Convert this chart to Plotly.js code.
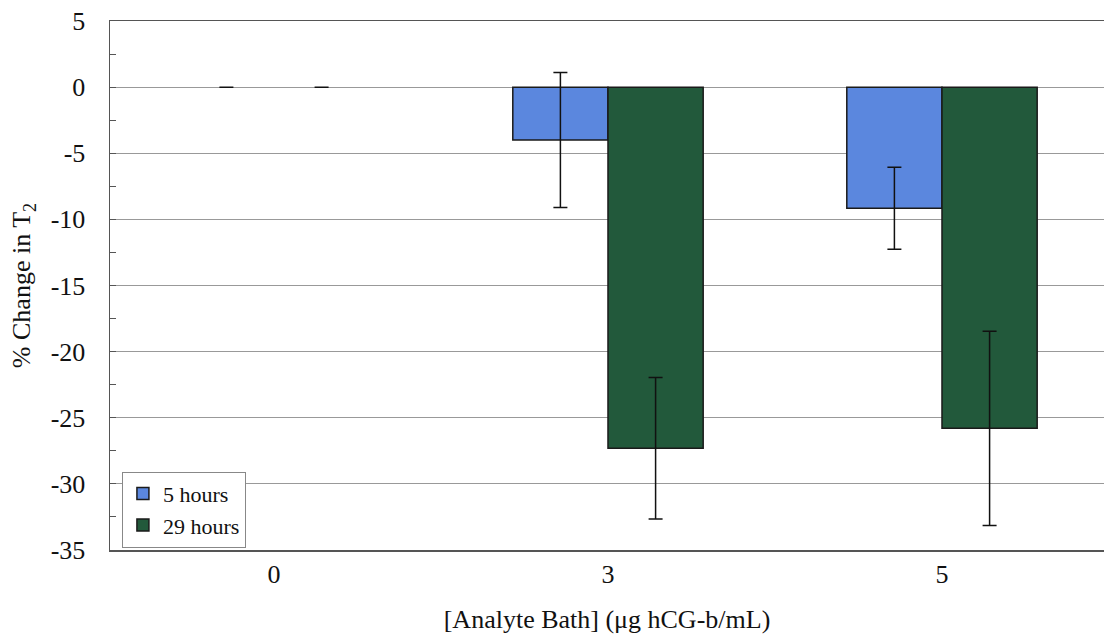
<!DOCTYPE html>
<html>
<head>
<meta charset="utf-8">
<script src="https://cdn.plot.ly/plotly-3.0.1.min.js"></script>
<style>html,body{margin:0;padding:0;background:#fff;overflow:hidden}</style>
</head>
<body>
<div id="chart" style="width:1104px;height:641px"></div>
<script>
const categories = ["0", "3", "5"];
const hours5 = [0, -4.0, -9.15];
const hours5Err = [0, 5.1, 3.1];
const hours29 = [0, -27.3, -25.8];
const hours29Err = [0, 5.35, 7.35];
const seriesNames = ["5 hours", "29 hours"];
const yTicks = [5, 0, -5, -10, -15, -20, -25, -30, -35];

const xPos = categories.map((c, i) => i);
// draw non-zero points first so the legend swatch picks up the outline
const order = [1, 2, 0];
const fam = "Times New Roman, Liberation Serif, Tinos, serif";
const mk = (s) => ({family: fam, size: s, color: "#111"});
const lineW = (vals) => order.map(i => (vals[i] === 0 ? 0 : 1.5));
const pick = (arr) => order.map(i => arr[i]);

const traces = [
  {
    type: "bar", name: seriesNames[0],
    x: pick(xPos), y: pick(hours5),
    marker: {color: "#5b87de", line: {color: "#1a1a1a", width: lineW(hours5)}},
    error_y: {type: "data", array: pick(hours5Err), visible: true, color: "#111", thickness: 1.5, width: 7}
  },
  {
    type: "bar", name: seriesNames[1],
    x: pick(xPos), y: pick(hours29),
    marker: {color: "#22593b", line: {color: "#1a1a1a", width: lineW(hours29)}},
    error_y: {type: "data", array: pick(hours29Err), visible: true, color: "#111", thickness: 1.5, width: 7}
  }
];

const layout = {
  width: 1104, height: 641,
  margin: {l: 110, r: 0, t: 21, b: 91},
  paper_bgcolor: "#fff", plot_bgcolor: "#fff",
  barmode: "group", bargap: 0.43, bargroupgap: 0,
  font: mk(26),
  showlegend: true,
  legend: {
    x: 0.012, y: 0.148, xanchor: "left", yanchor: "top",
    bgcolor: "#fff", bordercolor: "#888", borderwidth: 1,
    font: mk(22), itemwidth: 30
  },
  xaxis: {
    range: [-0.491, -0.491 + 994 / 334],
    tickvals: xPos, ticktext: categories,
    showgrid: false, zeroline: false,
    showline: true, mirror: true, linecolor: "#555", linewidth: 1.5,
    ticks: "", tickfont: mk(26),
    title: {text: "[Analyte Bath] (μg hCG-b/mL)", font: mk(26), standoff: 22}
  },
  yaxis: {
    range: [-35, 5],
    tickvals: yTicks, ticktext: yTicks.map(String),
    showgrid: true, gridcolor: "#999", gridwidth: 1,
    zeroline: false,
    showline: true, linecolor: "#555", linewidth: 1.5,
    ticks: "inside", ticklen: 6, tickcolor: "#555",
    minor: {dtick: 2.5, ticks: "inside", ticklen: 6, tickcolor: "#555", showgrid: false},
    tickfont: mk(26), ticklabelstandoff: 18,
    title: {text: "% Change in T<sub>2</sub>", font: mk(26), standoff: 12}
  }
};

Plotly.newPlot("chart", traces, layout, {displayModeBar: false, staticPlot: true});
</script>
</body>
</html>
